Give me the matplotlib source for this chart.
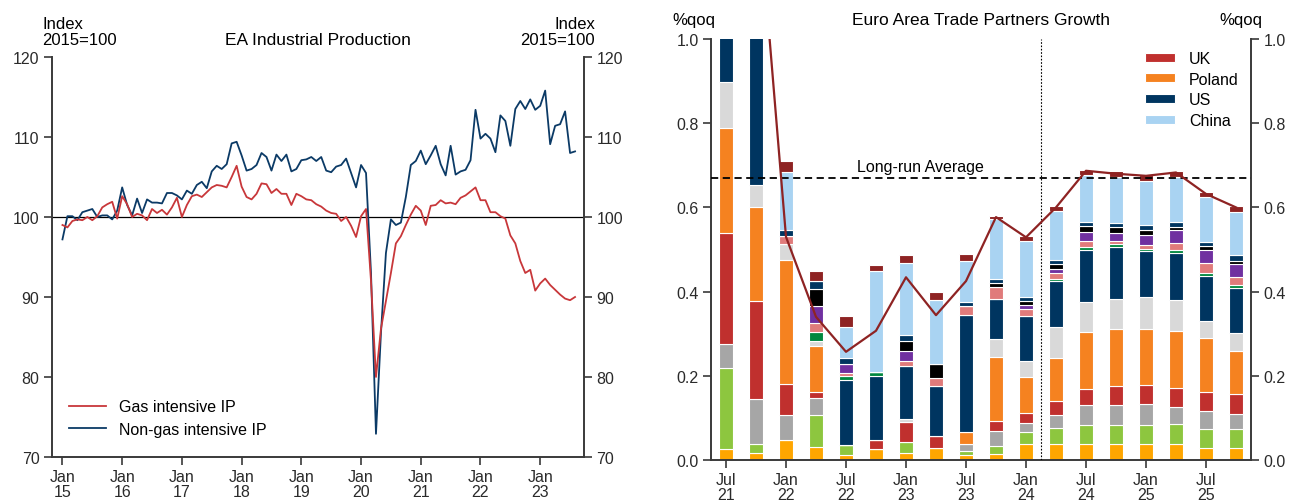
import numpy as np
import matplotlib.pyplot as plt

plt.rcParams['font.family'] = ['Liberation Sans', 'DejaVu Sans']
plt.rcParams['font.size'] = 11.5

# ---------------- left panel: EA industrial production, monthly Jan 2015 - Aug 2023
gas_ip = [99.0, 98.7, 99.5, 99.7, 99.6, 100.0, 99.6, 100.1, 101.2, 101.6, 101.9, 99.8,
          102.6, 101.6, 100.0, 100.4, 100.2, 99.6, 101.0, 100.5, 100.9, 100.3, 101.2, 102.4,
          100.0, 101.5, 102.6, 102.8, 102.5, 103.1, 103.7, 104.0, 103.9, 103.7, 105.0, 106.4,
          103.8, 102.5, 102.2, 102.9, 104.2, 104.1, 103.0, 103.5, 102.9, 102.9, 101.5, 102.9,
          102.6, 102.2, 102.1, 101.6, 101.3, 100.8, 100.5, 100.4, 99.5, 100.0, 98.9, 97.5,
          100.1, 101.0, 92.0, 80.0, 86.0, 89.5, 93.0, 96.7, 97.6, 99.0, 100.3, 101.4,
          100.8, 99.0, 101.4, 101.5, 102.1, 101.7, 101.8, 101.6, 102.4, 102.7, 103.2, 103.7,
          102.1, 102.1, 100.6, 100.6, 100.1, 99.8, 97.7, 96.7, 94.5, 93.0, 93.4, 90.8,
          91.7, 92.3, 91.5, 90.9, 90.3, 89.8, 89.6, 90.0]
non_gas_ip = [97.2, 100.1, 100.1, 99.6, 100.6, 100.8, 101.0, 100.0, 100.2, 100.2, 99.7, 100.8,
              103.7, 101.5, 100.2, 102.3, 100.5, 102.2, 101.8, 101.8, 101.7, 103.0, 103.0, 102.7,
              102.2, 103.3, 102.9, 104.0, 104.4, 103.6, 105.7, 106.4, 106.0, 106.6, 109.2, 109.4,
              107.7, 105.8, 106.0, 106.5, 108.0, 107.5, 105.8, 107.8, 107.0, 107.8, 105.7, 106.0,
              107.1, 107.2, 107.5, 107.0, 107.5, 105.8, 105.6, 106.3, 106.5, 107.3, 105.5, 103.7,
              106.5, 105.5, 93.0, 72.9, 85.5, 95.5, 99.7, 99.0, 99.3, 102.5, 106.5, 107.0,
              108.3, 106.6, 107.7, 108.9, 106.6, 105.2, 108.9, 105.3, 105.7, 105.9, 107.1, 113.4,
              109.8, 110.4, 109.8, 108.1, 112.7, 112.0, 108.9, 113.5, 114.5, 113.5, 114.7, 113.4,
              113.9, 115.8, 109.1, 111.4, 111.6, 113.2, 108.0, 108.2]
ip_years = ['15', '16', '17', '18', '19', '20', '21', '22', '23']

# ---------------- right panel: contributions to trade partners growth, %qoq
quarters = ['Jul\n21', 'Oct\n21', 'Jan\n22', 'Apr\n22', 'Jul\n22', 'Oct\n22', 'Jan\n23', 'Apr\n23',
            'Jul\n23', 'Oct\n23', 'Jan\n24', 'Apr\n24', 'Jul\n24', 'Oct\n24', 'Jan\n25', 'Apr\n25',
            'Jul\n25', 'Oct\n25']
c_gold = [.025, .017, .047, .030, .011, .025, .017, .028, .012, .015, .037, .037, .037, .037, .039, .039, .029, .029]
c_lime = [.194, .022, 0, .077, .025, 0, .026, 0, .010, .019, .029, .039, .045, .045, .043, .046, .045, .045]
c_grey = [.057, .107, .059, .041, 0, 0, 0, 0, .015, .036, .022, .032, .048, .048, .050, .042, .042, .036]
uk = [.263, .231, .074, .013, 0, .022, .047, .030, 0, .022, .024, .031, .038, .045, .045, .045, .045, .046]
poland = [.249, .223, .294, .109, 0, 0, 0, 0, .030, .152, .086, .104, .136, .135, .135, .135, .129, .103]
c_lightgrey = [.109, .053, .038, .012, 0, 0, .007, 0, 0, .044, .037, .073, .072, .073, .074, .073, .040, .042]
us = [.40, .647, 0, 0, .155, .152, .127, .117, .278, .095, .108, .109, .122, .123, .110, .112, .106, .107]
c_darkgreen = [0, 0, 0, .021, .009, .011, 0, 0, 0, 0, 0, .005, .007, .006, .006, .008, .008, .008]
c_pink = [0, 0, .019, .022, .006, 0, .012, .019, .021, .029, .016, .014, .015, .008, .008, .016, .024, .018]
c_purple = [0, 0, 0, .040, .023, 0, .022, 0, 0, 0, .008, .010, .022, .020, .024, .031, .032, .032]
c_black = [0, 0, 0, .041, 0, 0, .024, .035, 0, .008, .010, .012, .013, .013, .012, .006, .008, .007]
c_navy = [0, 0, .015, .018, .013, 0, .015, 0, .010, .010, .009, .009, .010, .010, .012, .013, .009, .013]
china = [0, 0, .138, 0, .075, .239, .172, .151, .097, .143, .135, .117, .111, .109, .105, .106, .108, .103]
c_darkred = [0, 0, .027, .025, .026, .013, .019, .019, .017, .007, .011, .011, .012, .014, .013, .014, .011, .014]
total_growth = [1.55, 1.39, 0.53, 0.34, 0.257, 0.307, 0.434, 0.344, 0.425, 0.577, 0.529, 0.600,
                0.687, 0.680, 0.675, 0.683, 0.632, 0.600]
long_run_avg = 0.67

stack = [(c_gold, '#FFA600', None), (c_lime, '#8DC63F', None), (c_grey, '#A6A6A6', None),
         (uk, '#C0302E', 'UK'), (poland, '#F58220', 'Poland'), (c_lightgrey, '#D9D9D9', None),
         (us, '#003560', 'US'), (c_darkgreen, '#00873E', None), (c_pink, '#E07B7B', None),
         (c_purple, '#7030A0', None), (c_black, '#000000', None), (c_navy, '#003560', None),
         (china, '#A9D3F2', 'China'), (c_darkred, '#8E2323', None)]

fig = plt.figure(figsize=(13.02, 5.02), dpi=100)
tick_col = '#2a2a2a'
spine_col = '#3a3a3a'

# ================= left
ax1 = fig.add_axes([52 / 1302, 1 - 458 / 502, 532 / 1302, 400 / 502])
months = np.arange(len(gas_ip))
ax1.axhline(100, color='black', lw=0.9, zorder=1)
ax1.plot(months, gas_ip, color='#C8373A', lw=1.3, label='Gas intensive IP', zorder=3)
ax1.plot(months, non_gas_ip, color='#0B3A66', lw=1.3, label='Non-gas intensive IP', zorder=2)
ax1.set_xlim(-2.1, 104.8)
ax1.set_ylim(70, 120)
ax1.set_yticks(range(70, 121, 10))
ax1.set_xticks(np.arange(len(ip_years)) * 12)
ax1.set_xticklabels(['Jan\n' + y for y in ip_years], linespacing=1.0)
ax1.tick_params(axis='y', left=True, right=True, labelleft=True, labelright=True)
ax1.spines['top'].set_visible(False)
ax1.legend(loc='lower left', bbox_to_anchor=(0.005, 0.015), frameon=False, handlelength=2.3,
           handletextpad=0.85, labelspacing=0.45, fontsize=11.5)

fig.text(42 / 1302, 1 - 48 / 502, 'Index\n2015=100', ha='left', va='bottom', fontsize=12,
         linespacing=1.05)
fig.text(595 / 1302, 1 - 48 / 502, 'Index\n2015=100', ha='right', va='bottom', fontsize=12,
         linespacing=1.05, multialignment='right')
fig.text(318 / 1302, 1 - 48 / 502, 'EA Industrial Production', ha='center', va='bottom', fontsize=12.5)

# ================= right
ax2 = fig.add_axes([711 / 1302, 1 - 461 / 502, 540 / 1302, 421 / 502])
x = np.arange(len(quarters))
bottom = np.zeros(len(quarters))
for vals, col, lab in stack:
    vals = np.array(vals)
    ax2.bar(x, vals, 0.45, bottom=bottom, color=col, edgecolor='white', linewidth=0.8,
            label=lab if lab else '_nolegend_', zorder=2)
    bottom += vals
ax2.plot(x, total_growth, color='#8E2323', lw=1.6, zorder=4)
ax2.axhline(long_run_avg, color='black', ls=(0, (4, 2.5)), lw=1.3, zorder=3)
ax2.text(4.37, 0.686, 'Long-run Average', ha='left', va='baseline', fontsize=11.5)
ax2.axvline(10.5, color='black', ls=(0, (1.5, 1.5)), lw=0.8, zorder=3)
ax2.set_xlim(-0.5, 17.5)
ax2.set_ylim(0, 1.0)
ax2.set_yticks(np.arange(0, 1.01, 0.2))
ax2.yaxis.set_major_formatter(plt.FormatStrFormatter('%.1f'))
ax2.set_xticks(x[::2])
ax2.set_xticklabels(quarters[::2], linespacing=1.0)
ax2.tick_params(axis='y', left=True, right=True, labelleft=True, labelright=True)
ax2.spines['top'].set_visible(False)

handles, labels = ax2.get_legend_handles_labels()
order = [labels.index(k) for k in ['UK', 'Poland', 'US', 'China']]
ax2.legend([handles[i] for i in order], [labels[i] for i in order], loc='upper left',
           bbox_to_anchor=((1145 - 711) / 540, (461 - 52) / 421), frameon=False, borderpad=0,
           borderaxespad=0, handlelength=1.9, handleheight=0.5, handletextpad=0.85,
           labelspacing=0.35, fontsize=11.5)

fig.text(672 / 1302, 1 - 28 / 502, '%qoq', ha='left', va='bottom', fontsize=12)
fig.text(1262 / 1302, 1 - 28 / 502, '%qoq', ha='right', va='bottom', fontsize=12)
fig.text(981 / 1302, 1 - 28 / 502, 'Euro Area Trade Partners Growth', ha='center', va='bottom',
         fontsize=12.5)

for ax in (ax1, ax2):
    for s in ('left', 'right', 'bottom'):
        ax.spines[s].set_color(spine_col)
        ax.spines[s].set_linewidth(1.4)
    ax.tick_params(axis='both', direction='out', length=6, width=1.2, color=spine_col,
                   labelcolor=tick_col, labelsize=11.5, pad=3)

fig.savefig('out.png', dpi=100)
